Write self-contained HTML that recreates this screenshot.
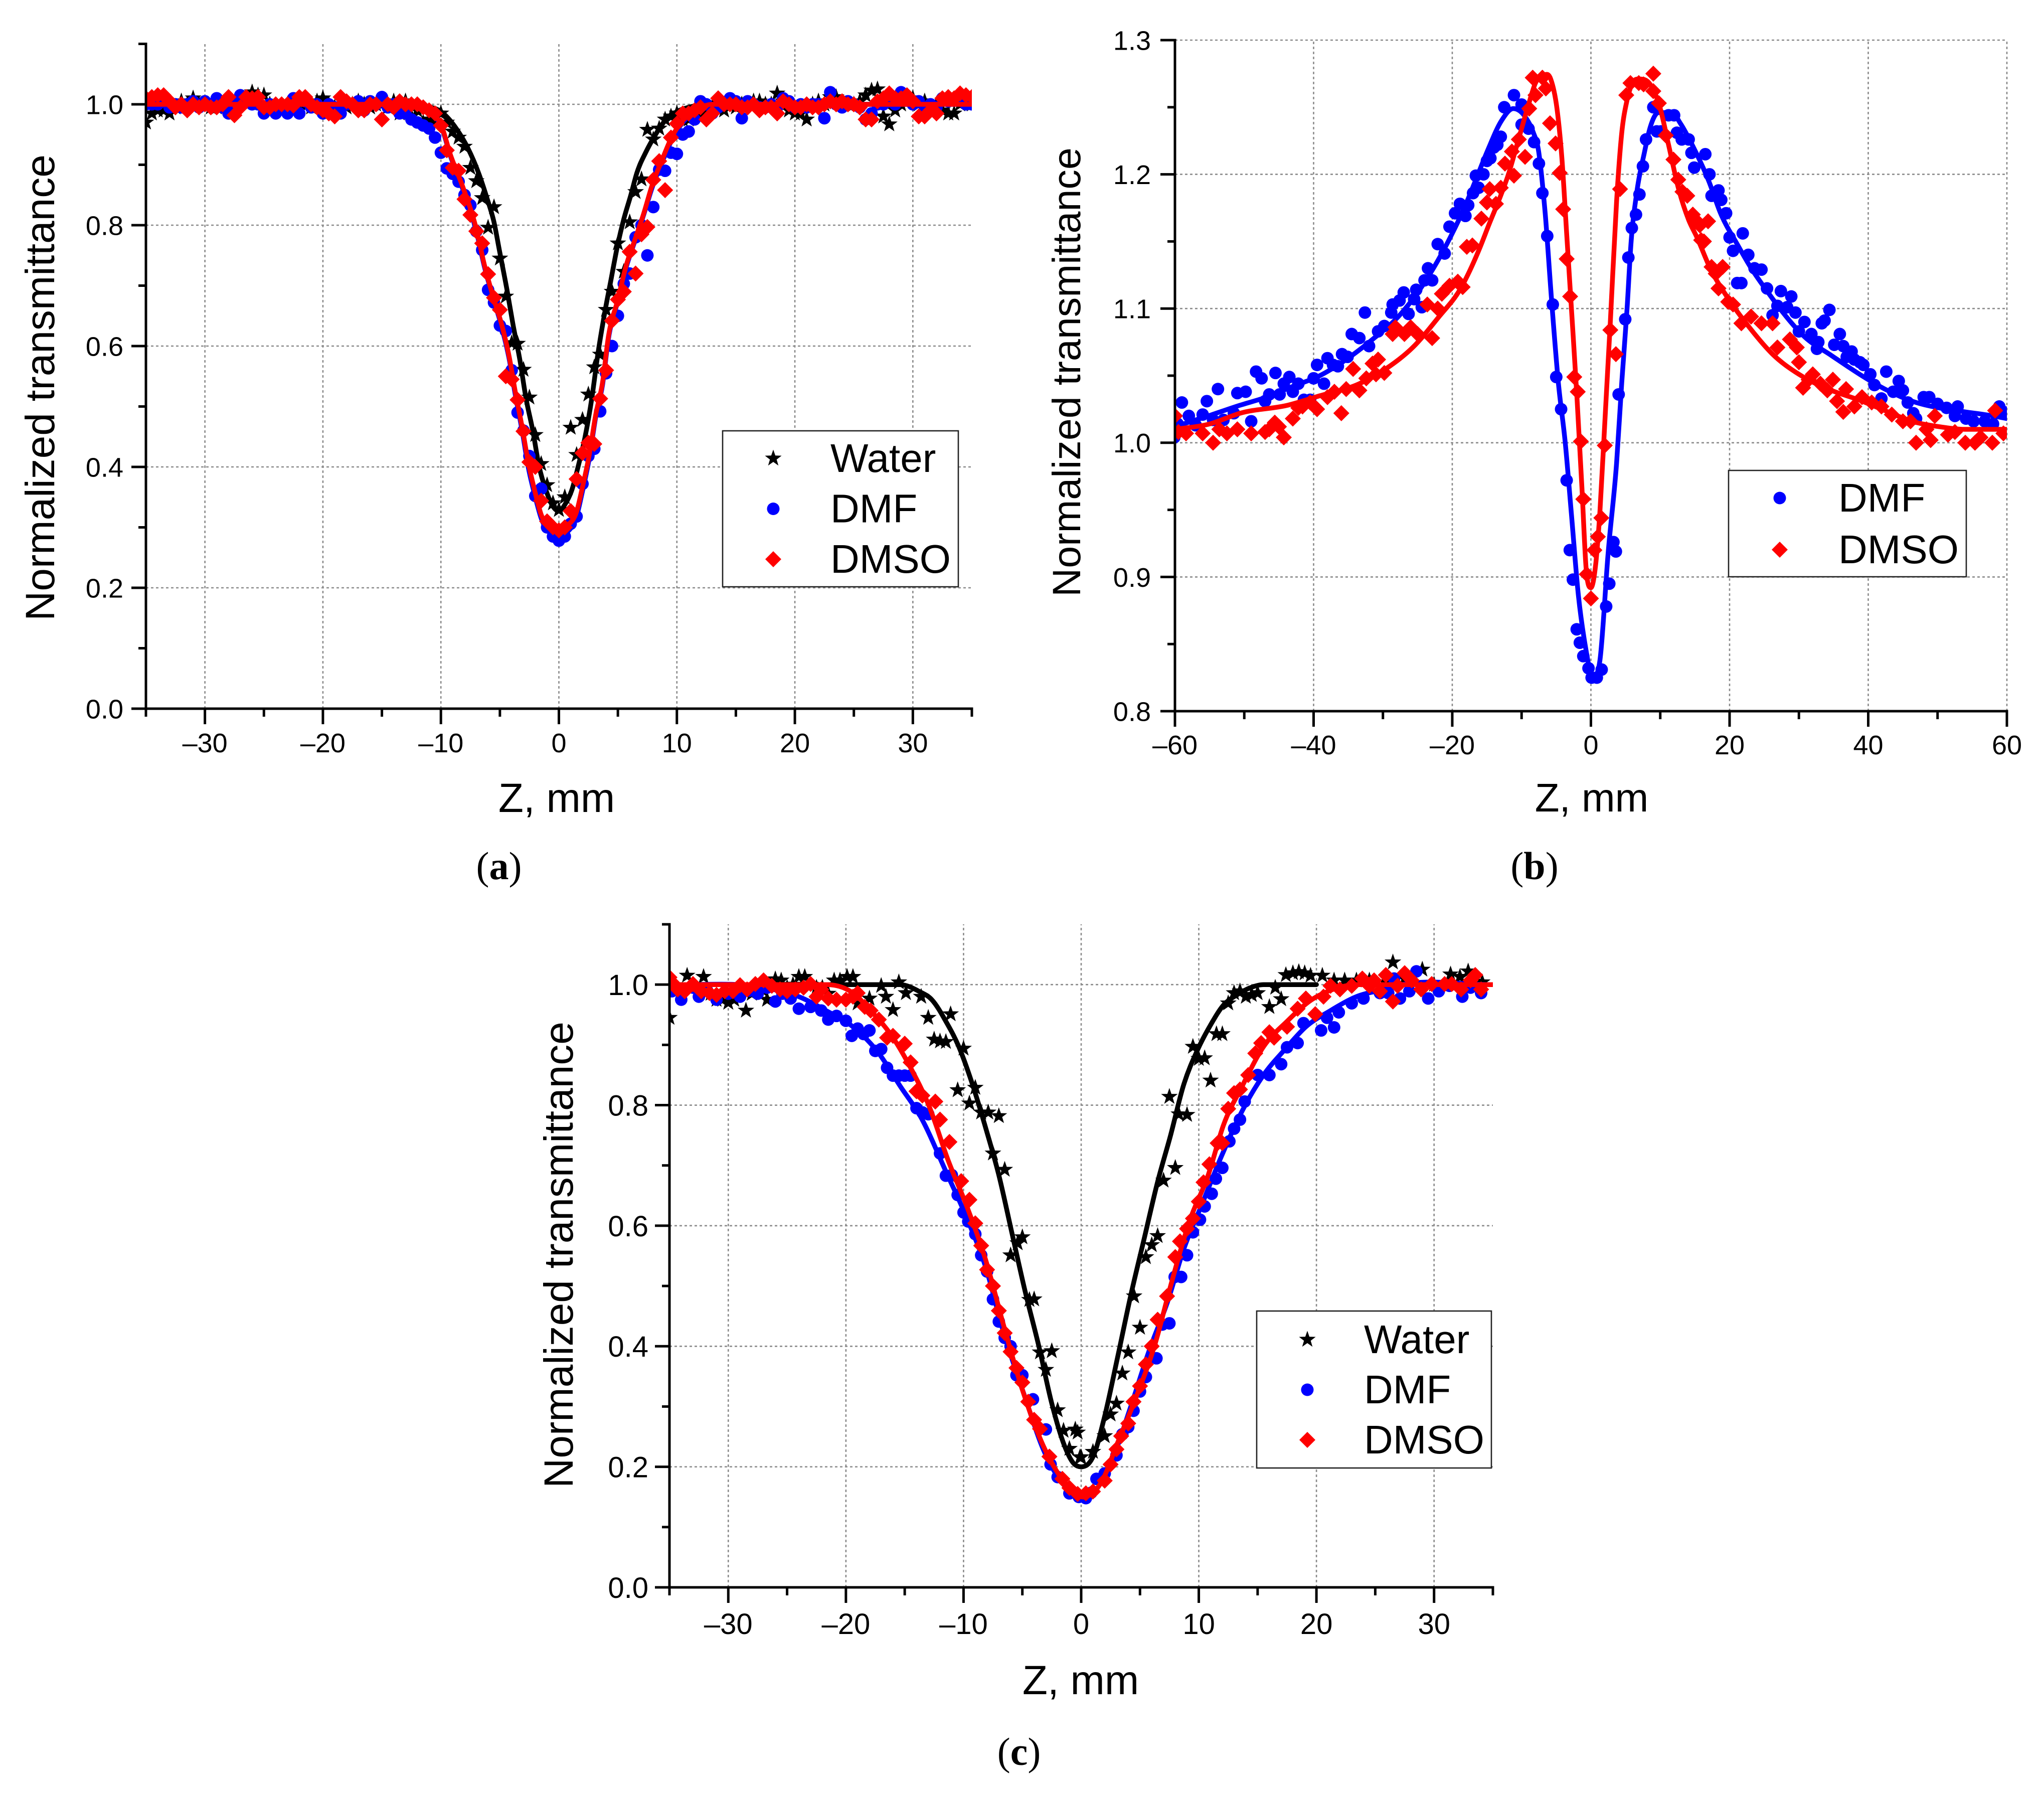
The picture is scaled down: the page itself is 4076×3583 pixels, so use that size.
<!DOCTYPE html>
<html lang="en">
<head>
<meta charset="utf-8">
<title>Normalized transmittance vs Z</title>
<style>
html,body{margin:0;padding:0;background:#fff}
svg{display:block}
text{font-family:"Liberation Sans",sans-serif;fill:#000}
.cap{font-family:"Liberation Serif",serif;font-size:78px}
.axt{font-size:82px}
.leg{font-size:80px}
</style>
</head>
<body>
<svg id="fig" xmlns="http://www.w3.org/2000/svg" width="4076" height="3583" viewBox="0 0 4076 3583">
<rect width="4076" height="3583" fill="#fff"/>
<g id="panel-a"></g>
<g id="panel-b"></g>
<g id="panel-c"></g>

<text class="axt" transform="translate(108,773) rotate(-90)" text-anchor="middle">Normalized transmittance</text>
<text class="axt" x="1110" y="1619" text-anchor="middle">Z, mm</text>
<text class="cap" x="995" y="1753" text-anchor="middle">(<tspan font-weight="bold">a</tspan>)</text>

<text class="axt" transform="translate(2154,742) rotate(-90)" text-anchor="middle" style="font-size:79px">Normalized transmittance</text>
<text class="axt" x="3174" y="1618" text-anchor="middle" style="font-size:80px">Z, mm</text>
<text class="cap" x="3060" y="1753" text-anchor="middle">(<tspan font-weight="bold">b</tspan>)</text>

<text class="axt" transform="translate(1142,2502) rotate(-90)" text-anchor="middle">Normalized transmittance</text>
<text class="axt" x="2155" y="3378" text-anchor="middle">Z, mm</text>
<text class="cap" x="2032" y="3519" text-anchor="middle">(<tspan font-weight="bold">c</tspan>)</text>
</svg>
<script>
/* ---------- Panel (a) data ---------- */
const aZ=[-35,-34.5,-34,-33.5,-33,-32.5,-32,-31.5,-31,-30.5,
-30,-29.5,-29,-28.5,-28,-27.5,-27,-26.5,-26,-25.5,
-25,-24.5,-24,-23.5,-23,-22.5,-22,-21.5,-21,-20.5,
-20,-19.5,-19,-18.5,-18,-17.5,-17,-16.5,-16,-15.5,
-15,-14.5,-14,-13.5,-13,-12.5,-12,-11.5,-11,-10.5,
-10,-9.5,-9,-8.5,-8,-7.5,-7,-6.5,-6,-5.5,
-5,-4.5,-4,-3.5,-3,-2.5,-2,-1.5,-1,-0.5,
0,0.5,1,1.5,2,2.5,3,3.5,4,4.5,
5,5.5,6,6.5,7,7.5,8,8.5,9,9.5,
10,10.5,11,11.5,12,12.5,13,13.5,14,14.5,
15,15.5,16,16.5,17,17.5,18,18.5,19,19.5,
20,20.5,21,21.5,22,22.5,23,23.5,24,24.5,
25,25.5,26,26.5,27,27.5,28,28.5,29,29.5,
30,30.5,31,31.5,32,32.5,33,33.5,34,34.5,
35];
const aWater=[.97,.985,.99,.99,.985,.995,1.005,1,1.01,1,
1,.995,.995,1,.99,.995,1.005,1.01,1.02,1.015,
1.015,1,.995,.99,1,.995,.99,1,.995,1.005,
1.01,1,.995,.99,.995,1,1.005,1,.995,1,
1,.995,1.005,.985,1.005,.98,.99,.97,.975,.97,
.985,.97,.955,.945,.93,.895,.873,.845,.796,.83,
.745,.682,.605,.604,.561,.515,.453,.405,.37,.34,
.329,.35,.465,.42,.478,.52,.565,.586,.66,.69,
.77,.723,.805,.855,.876,.958,.942,.96,.975,.98,
.985,.975,.975,.985,.985,.99,.995,1,.99,1,
.995,1,1,1.005,1.005,1,1,1.018,1.005,.99,
.985,.985,.975,1,1.005,1,1.012,1.012,1,1,
1,1.005,1.015,1.023,1.025,.98,.967,.99,1,1.005,
1.01,1,1.005,.995,1,.99,.985,.985,1,1.005,
1];
const aDMF=[1,1,1,1.005,.995,1,.995,1,1.005,.995,
1.005,1,1.01,.995,.985,1,1.015,1.01,1,1,
.985,1,.985,.995,.985,1.01,.985,1.005,.995,1,
.985,1,.995,.985,1,1,1.005,.99,1.005,1,
1.012,.995,1,.985,.985,.975,.97,.965,.96,.945,
.92,.894,.885,.872,.85,.833,.79,.759,.693,.672,
.634,.625,.56,.49,.46,.418,.352,.364,.3,.285,
.278,.285,.306,.318,.372,.418,.43,.492,.555,.6,
.65,.703,.72,.78,.8,.75,.83,.892,.89,.92,
.918,.95,.955,.975,1.005,1,.985,.995,1,1.01,
1.005,.977,1.005,1,.995,.995,1,.995,1.01,1.005,
.995,1,.995,1,1,.977,1.02,1,.995,1.005,
1,.995,.975,.985,1,1,1.005,1,1.02,1.01,
1,1.005,.99,1,.995,1.01,1.005,1.01,1.01,1,
1];
const aDMSO=[1.01,1.012,1.015,1.015,1.005,.995,1,.99,1,.995,
1,.995,.995,1,1.012,.982,.995,1.012,1.01,1.012,
.995,.995,1,1,1,.998,1.012,1.012,1,.995,
.99,.985,.98,1.012,1.005,1,.99,.99,1,1,
.975,1,.995,1.005,1,1,1,.995,.99,.985,
.965,.924,.895,.89,.843,.817,.79,.77,.719,.68,
.66,.55,.545,.511,.459,.408,.4,.344,.31,.3,
.295,.3,.327,.38,.423,.44,.438,.513,.56,.642,
.677,.69,.756,.72,.785,.797,.875,.906,.858,.945,
.968,.985,.985,.99,.995,.975,.985,1.01,1,1,
1,.995,.995,1,.99,.995,.995,.985,1.005,1,
.995,.995,1,.995,.995,1,1.005,1,1.005,1,
1,.995,.975,.975,1.005,1.01,1.018,1.01,1.01,1.015,
1.005,.98,.98,.99,.985,1.01,1.012,1.01,1.018,1.015,
1.012];
const aFitWaterZ=[-35,-13,-12,-11,-10,-8.7,-7.7,-6.8,-6.1,-5.5,-5,-4.4,-3.9,-3.3,-2.8,-2.2,-1.7,-1.1,-0.55,0,0.55,1.1,1.66,2.2,2.8,3.3,3.9,4.4,5,5.5,6.1,6.6,7.4,8.1,9,10,11,12,13,35];
const aFitWaterT=[1,1,.999,.996,.988,.96,.927,.886,.845,.805,.754,.693,.637,.576,.515,.459,.403,.362,.336,.327,.339,.362,.403,.448,.515,.586,.657,.708,.769,.81,.85,.886,.922,.947,.973,.988,.995,.999,1,1];
const aFitDMFZ=[-35,-13,-12,-11,-10,-9.2,-8.1,-7,-6.3,-5.5,-4.8,-4.2,-3.7,-3.1,-2.6,-2,-1.5,-0.7,0,0.7,1.5,2,2.6,3.1,3.7,4.2,5,5.7,6.5,7.2,7.9,8.7,9.6,10.5,11.6,13,35];
const aFitDMFT=[1,1,.995,.985,.965,.915,.857,.79,.73,.675,.628,.577,.52,.458,.4,.35,.315,.29,.285,.292,.318,.36,.417,.48,.536,.612,.675,.73,.777,.818,.862,.902,.942,.97,.988,1,1];
const aFitDMSOZ=[-35,-13,-12,-11,-10,-9.2,-8.1,-7,-6.3,-5.5,-4.8,-4.2,-3.7,-3.1,-2.6,-2,-1.5,-0.7,0,0.7,1.5,2,2.6,3.1,3.7,4.2,5,5.7,6.5,7.2,7.9,8.7,9.6,10.5,11.6,13,35];
const aFitDMSOT=[1,1,.995,.985,.967,.917,.861,.794,.733,.677,.632,.581,.525,.464,.408,.357,.321,.301,.296,.303,.326,.367,.423,.484,.54,.616,.677,.733,.779,.82,.866,.906,.947,.973,.99,1,1];
const aXMajor=[-30,-20,-10,0,10,20,30];
const aXMinor=[-35,-25,-15,-5,5,15,25,35];
const aYMajor=[0,.2,.4,.6,.8,1];
const aYMinor=[.1,.3,.5,.7,.9,1.1];
const aYLabels=["0.0","0.2","0.4","0.6","0.8","1.0"];

/* ---------- Panel (b) data ---------- */
const bDMFZ=[-60.1,-59.6,-59,-58,-57,-56,-55.4,-54.5,-53.8,-53,
-51.5,-51,-49.8,-49,-48.3,-47.5,-47,-46.4,-45.5,-44.9,
-44.3,-43.5,-43,-42.2,-41.4,-40.5,-40,-39.5,-38.5,-38,
-37.2,-36.5,-35.9,-35.1,-34.5,-33.4,-32.6,-32,-30.7,-29.8,
-28.8,-28.6,-27.6,-27,-26.3,-25.5,-25.2,-24.4,-24,-23.5,
-22.9,-22.1,-21.1,-20.4,-19.6,-18.9,-18.1,-17.7,-17,-16.6,
-16.2,-15.5,-15,-14.5,-14,-13.5,-13,-12.5,-11.1,-10,
-10,-9,-8.2,-7.5,-7,-6.3,-5.5,-5,-4.3,-3.5,
-3.05,-2.6,-2.05,-1.6,-1.1,-0.35,0.1,0.85,1.55,2.2,
2.65,3.25,3.6,4,4.95,5.4,5.9,6.5,7,7.5,
7.95,9,9.5,10.1,11.2,12,12.4,13.1,14.1,14.5,
14.9,16.5,17.1,17.4,18.4,18.8,19.5,20,20.5,21.1,
21.7,21.9,22.7,23.6,24.6,25.4,26.2,26.9,27.4,28.3,
28.9,29.5,30,30.8,31.8,32.6,32.8,33.3,33.7,34.4,
35.1,35.9,36.4,36.9,37.6,38,38.8,39.3,40.3,40.9,
41.9,42.6,43.6,44.4,45,45.7,46.5,46.9,48,48.8,
50,51.3,52.5,52.9,54.1,55.2,56.8,58,58.9,59.5];
const bDMFT=[1.004,1.014,1.03,1.02,1.013,1.021,1.031,1.017,1.04,1.017,
1.022,1.037,1.038,1.016,1.053,1.048,1.031,1.036,1.052,1.036,
1.044,1.049,1.038,1.044,1.032,1.032,1.048,1.058,1.044,1.063,
1.058,1.057,1.066,1.064,1.081,1.078,1.097,1.072,1.083,1.087,
1.097,1.103,1.106,1.112,1.096,1.107,1.114,1.101,1.121,1.13,
1.121,1.148,1.141,1.161,1.171,1.178,1.169,1.177,1.186,1.199,
1.19,1.2,1.21,1.212,1.22,1.222,1.228,1.25,1.259,1.252,
1.237,1.234,1.224,1.208,1.186,1.154,1.103,1.049,1.025,.972,
.92,.898,.861,.851,.841,.832,.825,.825,.831,.878,
.895,.926,.919,1.036,1.092,1.138,1.16,1.17,1.185,1.206,
1.226,1.25,1.232,1.232,1.244,1.244,1.231,1.226,1.226,1.216,
1.205,1.215,1.2,1.184,1.188,1.181,1.171,1.153,1.143,1.119,
1.119,1.156,1.14,1.13,1.129,1.115,1.095,1.102,1.113,1.101,
1.109,1.097,1.083,1.09,1.081,1.07,1.075,1.089,1.091,1.099,
1.073,1.081,1.072,1.064,1.068,1.062,1.06,1.058,1.051,1.043,
1.033,1.053,1.038,1.046,1.039,1.03,1.022,1.018,1.034,1.034,
1.029,1.026,1.02,1.027,1.018,1.016,1.016,1.014,1.027,1.023];
const bDMSOZ=[-60,-59.5,-58.4,-56,-54.5,-53.6,-52.5,-51,-49,-47,
-46.4,-45.6,-45,-44.3,-43,-42.2,-41.6,-40.5,-39.5,-38,
-37,-36,-35.3,-34.3,-33.4,-32.4,-31.5,-31,-30.7,-29.8,
-28.6,-28.2,-26.9,-26,-25,-23.6,-22.9,-22.1,-21.5,-20.4,
-19.2,-18.5,-17.9,-17.1,-15.8,-15,-14.6,-13.7,-13,-12.4,
-11.4,-11.1,-10.4,-9.5,-8.9,-8.4,-8,-7,-6.5,-5.9,
-5.1,-4.5,-4,-3.5,-3,-2.4,-1.9,-1.45,-1.1,-0.6,
0,0.5,1,1.5,2,2.8,3.6,4.2,5.1,5.7,
6.9,7.6,9,9,9.8,10.8,11.9,12.6,13.2,13.9,
14.7,15.1,15.7,15.9,16.3,16.9,17.4,18,18.4,19,
19.8,20.5,21.7,23.1,24.6,26.2,26.9,28.7,29.7,30,
30.6,31.4,32,33.1,34.1,34.9,35.5,36.4,36.8,38,
39.1,40.5,41.9,43.4,45,46.1,46.9,48.4,49,49.6,
51.5,52.5,54,55.4,56.2,57.9,58.3,59.5];
const bDMSOT=[1.02,1.008,1.007,1.007,1,1.01,1.007,1.01,1.007,1.008,
1.01,1.015,1.012,1.004,1.018,1.026,1.027,1.03,1.025,1.034,
1.038,1.022,1.04,1.055,1.039,1.048,1.059,1.051,1.062,1.052,
1.081,1.086,1.081,1.086,1.081,1.103,1.078,1.1,1.111,1.117,
1.12,1.116,1.146,1.147,1.167,1.179,1.189,1.178,1.19,1.208,
1.217,1.199,1.226,1.213,1.249,1.272,1.259,1.272,1.264,1.238,
1.223,1.201,1.174,1.137,1.109,1.049,1.038,1.001,.958,.902,
.884,.92,.93,.944,.998,1.084,1.066,1.189,1.259,1.268,
1.268,1.267,1.275,1.262,1.253,1.229,1.211,1.196,1.187,1.184,
1.17,1.166,1.162,1.151,1.15,1.165,1.131,1.126,1.115,1.131,
1.105,1.103,1.089,1.094,1.089,1.089,1.071,1.077,1.071,1.06,
1.041,1.047,1.051,1.044,1.039,1.047,1.031,1.023,1.04,1.027,
1.034,1.03,1.027,1.021,1.016,1.016,1,1.01,1.002,1.02,
1.006,1.008,1,1,1.004,1,1.024,1.007];
const bFitDMFZ=[-60,-55.2,-50.6,-46.8,-43,-39.1,-35.3,-31.5,-27.6,-23.8,-20,-18.1,-16.6,-14.8,-12.9,-11.2,-9.5,-8.3,-7.6,-6.6,-5.7,-4.7,-3.7,-2.8,-1.8,-0.85,0.25,1.3,2.5,3.7,4.45,5.2,5.8,6.6,7.7,8.55,9.75,11.7,12.9,14.8,17,18.7,21.1,23,25.4,27.7,30.8,34.7,39.7,42.4,46.3,50.2,54,58,60];
const bFitDMFT=[1.012,1.02,1.028,1.034,1.042,1.05,1.062,1.077,1.095,1.121,1.156,1.177,1.196,1.219,1.24,1.249,1.243,1.231,1.219,1.171,1.108,1.045,1,.946,.886,.85,.826,.838,.919,.985,1.045,1.099,1.15,1.186,1.216,1.235,1.246,1.246,1.238,1.22,1.195,1.171,1.148,1.131,1.113,1.097,1.079,1.065,1.048,1.04,1.031,1.026,1.023,1.02,1.018];
const bFitDMSOZ=[-60,-55,-50.6,-43.7,-39.1,-33.4,-29.6,-25.7,-21.9,-18.9,-16.2,-14.6,-13.1,-11.9,-10.5,-9,-8,-6.9,-5.8,-4.9,-4.2,-3.5,-2.8,-2,-1.3,-0.7,0,0.7,1.3,2,2.8,3.7,4.45,5.2,5.9,7.1,8.55,10,11.2,12.65,14.1,15.3,17.2,19.6,23,26.2,30,34.7,38.6,42.4,46.3,50.2,54,60];
const bFitDMSOT=[1.01,1.014,1.022,1.028,1.035,1.044,1.055,1.071,1.094,1.114,1.143,1.164,1.183,1.2,1.225,1.252,1.268,1.274,1.271,1.249,1.213,1.156,1.099,1.033,.967,.907,.892,.91,.949,1.015,1.09,1.18,1.231,1.255,1.267,1.271,1.267,1.249,1.222,1.189,1.166,1.153,1.13,1.109,1.085,1.066,1.051,1.039,1.032,1.024,1.016,1.012,1.01,1.01];
const bXMajor=[-60,-40,-20,0,20,40,60];
const bXMinor=[-50,-30,-10,10,30,50];
const bYMajor=[.8,.9,1,1.1,1.2,1.3];
const bYMinor=[.85,.95,1.05,1.15,1.25];
const bYLabels=["0.8","0.9","1.0","1.1","1.2","1.3"];

/* ---------- Panel (c) data ---------- */
const cWaterZ=[-35,-34.5,-34,-33.5,-33,-32.5,-32.1,-31.5,-31,-30.5,
-30,-29.5,-29,-28.5,-28,-27.5,-27,-26.7,-26,-25.5,
-25,-24.5,-24,-23.5,-23,-22.5,-22,-21.5,-21,-20.5,
-19.9,-19.4,-19,-18,-17,-16.6,-16,-15.5,-14.9,-13.6,
-13,-12.5,-12,-11.5,-11.1,-10.5,-10,-9.5,-9,-8.5,
-7.9,-7.5,-7,-6.5,-6,-5.4,-5,-4.4,-4,-3.5,
-3,-2.5,-2,-1.5,-1,-0.5,-0.3,-0.1,0,1,
2,2.5,3,3.5,4,4.5,5,5.5,6,6.5,
7,7.5,8,8.3,9,9.5,10,10.5,11,11.5,
12,12.5,13,13.5,14,14.5,15,16,16.5,17,
17.4,18,18.5,19,19.5,20.5,21.5,22.4,23.4,24.5,
25.9,26.5,27.5,29,30,31.4,32.2,32.9,33.5,34.1];
const cWaterT=[.945,.99,.99,1.015,.995,.99,1.013,.985,.975,.975,
.97,.975,.985,.957,.985,.995,.99,.975,1.009,1.007,
.995,1,1.013,1.013,1,.995,.995,.985,1.007,1.007,
1.013,1.013,.969,.977,.998,.98,.958,1.004,.986,.98,
.945,.909,.906,.905,.951,.825,.894,.803,.829,.788,
.788,.72,.782,.693,.551,.571,.581,.477,.478,.39,
.361,.392,.294,.26,.23,.262,.257,.216,.216,.225,
.251,.287,.305,.355,.39,.483,.431,.548,.568,.583,
.675,.814,.696,.785,.784,.897,.877,.878,.841,.918,
.918,.969,.986,.989,.98,.983,.986,.963,.995,.976,
1.016,1.019,1.021,1.019,1.015,1.015,1.007,1.007,1.007,1.007,
1.004,1.037,1.01,1.025,1,1.017,1.013,1.022,1.005,1.004];
const cDMFZ=[-34.8,-34,-33,-32.5,-31.8,-31,-30,-29,-28.2,-27.5,
-26.7,-26,-25.4,-24.7,-24,-23,-22.1,-21.5,-20.8,-20,
-19.5,-19,-18.5,-18,-17.5,-17,-16.5,-16,-15.5,-15,
-14.5,-14,-13.5,-13,-12,-11.5,-11,-10.5,-10,-9.6,
-9,-8.5,-8,-7.5,-7,-6.5,-6,-5.5,-5,-4.1,
-3,-2.6,-2,-1,-0.2,0.4,0.85,1.3,2,3,
3.5,4,4.45,5,5.5,6.4,6.9,7.5,7.95,8.5,
9,9.5,10.1,10.5,11.1,11.45,12,12.6,13,13.5,
13.9,15,16,17,17.5,18.4,18.9,20.4,20.9,21.5,
21.9,23,24,25.4,26.1,26.6,27.1,27.9,28.5,29.5,
30.4,31.3,32.4,33.1,34];
const cDMFT=[.989,.975,.995,.98,.99,.975,.985,.98,.99,.985,
.995,.972,.985,.977,.96,.963,.957,.942,.948,.94,
.915,.927,.918,.924,.89,.893,.862,.849,.849,.849,
.849,.795,.788,.785,.72,.683,.684,.651,.622,.607,
.586,.551,.524,.478,.441,.414,.4,.352,.352,.312,
.262,.204,.183,.156,.15,.148,.157,.18,.189,.219,
.254,.266,.293,.325,.349,.38,.436,.438,.515,.515,
.551,.589,.61,.632,.653,.678,.696,.74,.761,.776,
.806,.85,.85,.868,.896,.903,.936,.924,.945,.929,
.954,.969,.977,.986,.986,1.01,.977,.989,1.022,.977,
.989,.998,.98,.995,.986];
const cDMSOZ=[-35,-34.8,-34.3,-33.7,-33,-32.3,-31.6,-31,-30.3,-29.6,
-29,-28.4,-27.7,-27,-26.3,-25.6,-25,-24.3,-23.6,-23,
-22.5,-22.1,-21.5,-20.8,-20,-19.4,-19,-18.4,-17.9,-17.2,
-16.5,-16,-15,-14.5,-14,-13.5,-12.4,-12,-11.2,-10.2,
-9.5,-9,-8.5,-8,-7.5,-7,-6.5,-6,-5.5,-5,
-4.5,-4,-3.5,-2.7,-1.6,-1,-0.3,0.4,1,2,
2.5,3,3.4,4,4.45,5,5.5,6,6.5,7.3,
8,8.4,9,9.5,10,10.4,10.9,11.6,12,12.5,
13,13.5,14.2,14.8,15.3,16,16.4,17.5,18.4,19.1,
19.9,20.6,21.2,22,23,23.9,24.5,24.9,25.4,25.9,
26.5,26.9,27.5,28.1,28.9,29.8,30.9,31.5,32.3,33.1,
33.5,34];
const cDMSOT=[1.012,1.004,.992,.989,1.001,.989,.986,.983,.989,.989,
.999,.992,1.001,1.007,.998,.992,.989,.992,.995,1.001,
.98,.992,.977,.975,.975,.98,.986,.963,.957,.942,
.912,.915,.902,.871,.823,.816,.806,.776,.739,.674,
.643,.604,.567,.527,.5,.459,.422,.391,.364,.34,
.308,.278,.263,.217,.18,.165,.155,.156,.159,.177,
.204,.229,.251,.272,.308,.334,.37,.4,.444,.483,
.548,.574,.595,.612,.64,.672,.702,.737,.737,.794,
.82,.826,.85,.886,.903,.921,.912,.93,.96,.977,
.951,.98,.998,.992,.998,1.01,.998,1.007,.989,1.016,
.972,.998,1.019,1.007,.992,1.001,1.001,1.001,.992,1.007,
1.016,.992];
const cFitWaterZ=[-35,-17.2,-15.4,-13.8,-12.7,-11.5,-10.4,-9.3,-8.1,-7,-5.9,-4.8,-3.6,-2.5,-1.4,-0.7,0,1.06,1.96,3.1,4.2,5.35,6.5,7.6,8.7,9.9,11,12.1,13.25,14.4,15.5,20];
const cFitWaterT=[1,1,1,.989,.975,.939,.897,.838,.761,.684,.589,.494,.4,.305,.234,.207,.2,.219,.281,.382,.483,.578,.673,.75,.833,.892,.933,.966,.983,.995,1,1];
const cFitDMFZ=[-35,-27,-24,-21.7,-19.4,-17.2,-15.4,-13.6,-11.5,-9.6,-8.1,-6.6,-4.8,-3.2,-1.4,0.15,1.5,2.6,4.2,5.8,7.4,8.7,10.3,11.9,13.7,15.5,17.3,19.1,21.2,23.4,25.7,26.8,35];
const cFitDMFT=[1,.995,.98,.957,.93,.886,.832,.779,.69,.607,.53,.423,.317,.228,.168,.146,.168,.21,.299,.394,.477,.56,.637,.714,.791,.85,.892,.93,.957,.98,.992,.998,1];
const cFitDMSOZ=[-35,-21.7,-19.4,-17.9,-16,-14.5,-12.9,-11.3,-9.7,-8.1,-6.6,-5,-3.2,-1.4,0.15,1.7,3.1,4.7,6.3,7.6,9.2,10.8,12.1,13.7,15.5,17.5,19.6,21.4,23.4,35];
const cFitDMSOT=[1,1,.986,.957,.912,.862,.797,.708,.631,.542,.435,.328,.234,.174,.15,.174,.24,.317,.405,.5,.607,.684,.767,.832,.897,.939,.975,.992,1,1];
const cXMajor=[-30,-20,-10,0,10,20,30];
const cXMinor=[-35,-25,-15,-5,5,15,25,35];
const cYMajor=[0,.2,.4,.6,.8,1];
const cYMinor=[.1,.3,.5,.7,.9,1.1];
const cYLabels=["0.0","0.2","0.4","0.6","0.8","1.0"];

const NS='http://www.w3.org/2000/svg';
const COLORS={water:'#000000',dmf:'#0000ff',dmso:'#ff0000'};
function make(tag,attrs,parent){
  const el=document.createElementNS(NS,tag);
  for(const k in attrs){el.setAttribute(k,attrs[k]);}
  parent.appendChild(el);
  return el;
}
function markerShape(kind,cx,cy,parent){
  let el;
  if(kind==='dmf'){
    el=make('circle',{cx:cx,cy:cy,r:12.5,fill:COLORS.dmf},parent);
  }else if(kind==='dmso'){
    el=make('polygon',{points:(cx-16)+','+cy+' '+cx+','+(cy-16)+' '+(cx+16)+','+cy+' '+cx+','+(cy+16),fill:COLORS.dmso},parent);
  }else{
    const pts=[];
    for(let i=0;i<10;i++){
      const r=i%2?7:17.5;
      const a=-Math.PI/2+i*Math.PI/5;
      pts.push((cx+r*Math.cos(a)).toFixed(1)+','+(cy+r*Math.sin(a)).toFixed(1));
    }
    el=make('polygon',{points:pts.join(' '),fill:COLORS.water},parent);
  }
  return el;
}
/* cubic Hermite through the fit samples so the line is smooth and never backtracks in x */
function smoothPath(xs,ys){
  const n=xs.length;
  const s=[];
  for(let i=0;i<n-1;i++){s.push((ys[i+1]-ys[i])/(xs[i+1]-xs[i]));}
  const m=[];
  for(let i=0;i<n;i++){
    if(i===0){m.push(s[0]);}
    else if(i===n-1){m.push(s[n-2]);}
    else if(s[i-1]*s[i]<=0){m.push(0);}
    else{
      const h0=xs[i]-xs[i-1];
      const h1=xs[i+1]-xs[i];
      m.push((h1*s[i-1]+h0*s[i])/(h0+h1));
    }
  }
  let d='M'+xs[0].toFixed(1)+' '+ys[0].toFixed(1);
  for(let i=0;i<n-1;i++){
    const h=(xs[i+1]-xs[i])/3;
    d+='C'+(xs[i]+h).toFixed(1)+' '+(ys[i]+m[i]*h).toFixed(1)+' '+(xs[i+1]-h).toFixed(1)+' '+(ys[i+1]-m[i+1]*h).toFixed(1)+' '+xs[i+1].toFixed(1)+' '+ys[i+1].toFixed(1);
  }
  return d;
}
function drawSeries(g,kind,xf,yf,zs,ts,fitZ,fitT){
  const sg=make('g',{},g);
  
  
  const n=Math.min(zs.length,ts.length);
  for(let i=0;i<n;i++){
    const m=markerShape(kind,xf(zs[i]),yf(ts[i]),sg);
    
    
  }
  const k=Math.min(fitZ.length,fitT.length);
  const px=[];
  const py=[];
  for(let i=0;i<k;i++){px.push(xf(fitZ[i]));py.push(yf(fitT[i]));}
  const line=make('path',{d:smoothPath(px,py),fill:'none',stroke:COLORS[kind],'stroke-width':9.5,'stroke-linejoin':'round','stroke-linecap':'round'},sg);
  
  
}
function drawPanel(id,cfg,xMajor,xMinor,yMajor,yMinor,yLabels,series){
  const g=document.getElementById(id);
  const xf=function(v){return cfg.xLeft+(v-cfg.zMin)*(cfg.xRight-cfg.xLeft)/(cfg.zMax-cfg.zMin);};
  const yf=function(v){return cfg.yBottom-(v-cfg.tMin)*(cfg.yBottom-cfg.yTop)/(cfg.tMax-cfg.tMin);};
  const GRID={stroke:'#8a8a8a','stroke-width':2.6,'stroke-dasharray':'5 5'};
  const gridG=make('g',GRID,g);
  
  
  xMajor.forEach(function(v){
    const l=make('line',{x1:xf(v),x2:xf(v),y1:cfg.yBottom,y2:cfg.yTop},gridG);
    
    
  });
  yMajor.forEach(function(v){
    const l=make('line',{x1:cfg.xLeft,x2:cfg.xRight,y1:yf(v),y2:yf(v)},gridG);
    
    
  });
  const clipId=id+'-clip';
  const defs=make('defs',{},g);
  const cp=make('clipPath',{id:clipId},defs);
  make('rect',{x:cfg.xLeft,y:cfg.yTop-40,width:cfg.xRight-cfg.xLeft,height:cfg.yBottom-cfg.yTop+40},cp);
  const plot=make('g',{'clip-path':'url(#'+clipId+')'},g);
  
  
  series.forEach(function(s){drawSeries(plot,s.kind,xf,yf,s.z,s.t,s.fz,s.ft);});

  const AX={stroke:'#000','stroke-width':5};
  const axG=make('g',AX,g);
  
  
  const xAxis=make('line',{x1:cfg.xLeft-2.5,x2:cfg.xRight+2.5,y1:cfg.yBottom,y2:cfg.yBottom},axG);
  
  
  const yAxis=make('line',{x1:cfg.xLeft,x2:cfg.xLeft,y1:cfg.yBottom+2.5,y2:cfg.yTop-2.5},axG);
  
  
  xMajor.forEach(function(v){
    const t=make('line',{x1:xf(v),x2:xf(v),y1:cfg.yBottom,y2:cfg.yBottom+31},axG);
    
    
    const lab=make('text',{x:xf(v),y:cfg.xLabelY,'text-anchor':'middle','font-size':cfg.tickSize,stroke:'none'},g);
    lab.textContent=String(v).replace('-','\u2013');
    
    
  });
  xMinor.forEach(function(v){
    const t=make('line',{x1:xf(v),x2:xf(v),y1:cfg.yBottom,y2:cfg.yBottom+16},axG);
    
    
  });
  yMajor.forEach(function(v,i){
    const t=make('line',{x1:cfg.xLeft,x2:cfg.xLeft-29,y1:yf(v),y2:yf(v)},axG);
    
    
    const lab=make('text',{x:cfg.yLabelX,y:yf(v)+cfg.tickSize*.36,'text-anchor':'end','font-size':cfg.tickSize,stroke:'none'},g);
    lab.textContent=yLabels[i];
    
    
  });
  yMinor.forEach(function(v){
    const t=make('line',{x1:cfg.xLeft,x2:cfg.xLeft-15,y1:yf(v),y2:yf(v)},axG);
    
    
  });

  const leg=make('g',{},g);
  
  
  const box=make('rect',{x:cfg.legX,y:cfg.legY,width:cfg.legW,height:cfg.legH,fill:'#fff',stroke:'#222','stroke-width':2.6},leg);
  
  
  series.forEach(function(s,i){
    const cy=cfg.legRowY+i*cfg.legStep;
    const m=markerShape(s.kind,cfg.legMarkX,cy,leg);
    
    
    const t=make('text',{x:cfg.legTextX,y:cy+27,'class':'leg'},leg);
    t.textContent=s.label;
    
    
  });
}
drawPanel('panel-a',{zMin:-35,zMax:35,tMin:0,tMax:1.1,xLeft:291,xRight:1938,yBottom:1413,yTop:87.5,xLabelY:1500,yLabelX:246,tickSize:54,
  legX:1441,legY:859,legW:470,legH:311,legMarkX:1542,legTextX:1656,legRowY:914,legStep:100.5},
  aXMajor,aXMinor,aYMajor,aYMinor,aYLabels,[
  {kind:'water',label:'Water',z:aZ,t:aWater,fz:aFitWaterZ,ft:aFitWaterT},
  {kind:'dmf',label:'DMF',z:aZ,t:aDMF,fz:aFitDMFZ,ft:aFitDMFT},
  {kind:'dmso',label:'DMSO',z:aZ,t:aDMSO,fz:aFitDMSOZ,ft:aFitDMSOT}]);
drawPanel('panel-b',{zMin:-60,zMax:60,tMin:.8,tMax:1.3,xLeft:2343,xRight:4002,yBottom:1418,yTop:80,xLabelY:1504,yLabelX:2295,tickSize:54,
  legX:3447,legY:938,legW:474,legH:212,legMarkX:3549,legTextX:3666,legRowY:993,legStep:103},
  bXMajor,bXMinor,bYMajor,bYMinor,bYLabels,[
  {kind:'dmf',label:'DMF',z:bDMFZ,t:bDMFT,fz:bFitDMFZ,ft:bFitDMFT},
  {kind:'dmso',label:'DMSO',z:bDMSOZ,t:bDMSOT,fz:bFitDMSOZ,ft:bFitDMSOT}]);
drawPanel('panel-c',{zMin:-35,zMax:35,tMin:0,tMax:1.1,xLeft:1335,xRight:2977,yBottom:3165,yTop:1843,xLabelY:3258,yLabelX:1293,tickSize:58,
  legX:2506,legY:2614,legW:468,legH:313,legMarkX:2607,legTextX:2720,legRowY:2671,legStep:100},
  cXMajor,cXMinor,cYMajor,cYMinor,cYLabels,[
  {kind:'water',label:'Water',z:cWaterZ,t:cWaterT,fz:cFitWaterZ,ft:cFitWaterT},
  {kind:'dmf',label:'DMF',z:cDMFZ,t:cDMFT,fz:cFitDMFZ,ft:cFitDMFT},
  {kind:'dmso',label:'DMSO',z:cDMSOZ,t:cDMSOT,fz:cFitDMSOZ,ft:cFitDMSOT}]);
</script>
</body>
</html>
